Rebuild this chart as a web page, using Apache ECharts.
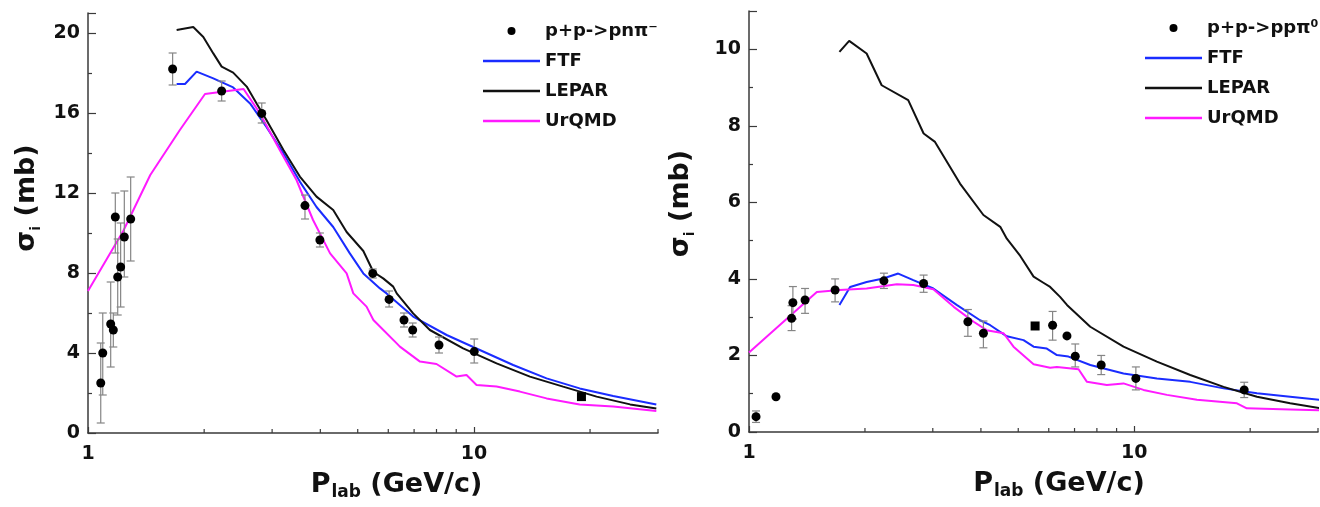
<!DOCTYPE html>
<html>
<head>
<meta charset="utf-8">
<script src="https://cdn.jsdelivr.net/npm/echarts@6/dist/echarts.min.js"></script>
<style>
  html, body { margin: 0; padding: 0; background: #ffffff; }
  #chart { width: 1320px; height: 507px; }
</style>
</head>
<body>
<div id="chart"></div>
<script>
// ---------- p+p -> p n pi-  (left panel) ----------
const pnName = 'p+p->pnπ⁻';
const pnX  = [1.079, 1.092, 1.145, 1.163, 1.177, 1.194, 1.215, 1.242, 1.290, 1.657, 2.22, 2.82, 3.65, 3.99, 5.47, 6.03, 6.59, 6.94, 8.12, 10.02];
const pnY  = [2.5, 4.0, 5.45, 5.15, 10.8, 7.8, 8.3, 9.8, 10.7, 18.2, 17.1, 15.98, 11.37, 9.65, 7.98, 6.68, 5.65, 5.15, 4.4, 4.07];
const pnLo = [0.5, 1.9, 3.3, 4.3, 9.0, 5.9, 6.3, 7.8, 8.6, 17.4, 16.6, 15.5, 10.7, 9.3, 7.75, 6.3, 5.3, 4.8, 4.0, 3.5];
const pnHi = [4.5, 6.0, 7.55, 6.0, 12.0, 9.7, 10.5, 12.1, 12.8, 19.0, 17.6, 16.5, 11.9, 10.0, 8.2, 7.1, 6.0, 5.5, 4.8, 4.7];
const pnSqX = [19.0];
const pnSqY = [1.82];

const pnFtfX = [1.697, 1.784, 1.912, 2.112, 2.378, 2.63, 2.90, 3.21, 3.54, 3.91, 4.32, 4.77, 5.17, 5.71, 5.94, 6.96, 8.5, 10.36, 12.64, 15.43, 18.8, 22.96, 29.7];
const pnFtfY = [17.45, 17.45, 18.07, 17.73, 17.28, 16.48, 15.3, 13.98, 12.57, 11.3, 10.3, 8.98, 7.98, 7.23, 6.98, 5.82, 4.9, 4.15, 3.4, 2.73, 2.23, 1.85, 1.43];

const pnLepX = [1.697, 1.874, 1.99, 2.112, 2.22, 2.378, 2.578, 2.735, 2.90, 3.21, 3.54, 3.91, 4.32, 4.68, 5.17, 5.49, 5.82, 6.18, 6.31, 6.96, 7.69, 9.38, 11.45, 13.97, 17.03, 20.8, 25.4, 29.7];
const pnLepY = [20.15, 20.3, 19.8, 18.98, 18.32, 18.02, 17.32, 16.48, 15.65, 14.15, 12.82, 11.82, 11.15, 10.05, 9.1, 8.05, 7.73, 7.32, 6.98, 5.98, 5.15, 4.23, 3.48, 2.82, 2.32, 1.82, 1.43, 1.23];

const pnUrqX = [1.0, 1.234, 1.45, 1.73, 2.01, 2.2, 2.53, 2.79, 3.14, 3.47, 3.83, 4.24, 4.68, 4.87, 5.27, 5.49, 6.31, 6.43, 7.25, 8.0, 9.02, 9.57, 10.16, 11.45, 13.16, 15.43, 18.8, 22.96, 29.7];
const pnUrqY = [7.1, 10.1, 12.9, 15.15, 16.95, 17.05, 17.2, 15.98, 14.15, 12.65, 10.65, 8.98, 7.98, 6.98, 6.32, 5.65, 4.48, 4.32, 3.57, 3.45, 2.82, 2.9, 2.4, 2.32, 2.07, 1.73, 1.43, 1.32, 1.1];

// ---------- p+p -> p p pi0  (right panel) ----------
const ppName = 'p+p->ppπ⁰';
const ppX  = [1.043, 1.175, 1.29, 1.30, 1.398, 1.673, 2.24, 2.84, 3.70, 4.06, 6.14, 6.69, 7.03, 8.21, 10.1, 19.3];
const ppY  = [0.40, 0.92, 2.97, 3.38, 3.45, 3.71, 3.95, 3.88, 2.88, 2.58, 2.79, 2.51, 1.98, 1.75, 1.40, 1.10];
const ppLo = [0.25, 0.92, 2.65, 2.95, 3.1, 3.4, 3.75, 3.65, 2.5, 2.2, 2.4, 2.51, 1.7, 1.5, 1.1, 0.9];
const ppHi = [0.55, 0.92, 3.3, 3.8, 3.75, 4.0, 4.15, 4.1, 3.2, 2.9, 3.15, 2.51, 2.3, 2.0, 1.7, 1.3];
const ppSqX = [5.53];
const ppSqY = [2.77];

const ppFtfX = [1.717, 1.83, 2.02, 2.23, 2.44, 2.67, 3.01, 3.46, 3.98, 4.23, 4.67, 5.16, 5.48, 5.93, 6.30, 6.75, 7.69, 9.38, 11.45, 13.98, 17.06, 20.83, 25.4, 30.4];
const ppFtfY = [3.32, 3.79, 3.92, 4.01, 4.14, 3.97, 3.75, 3.32, 2.92, 2.79, 2.50, 2.40, 2.23, 2.18, 2.01, 1.97, 1.75, 1.53, 1.40, 1.31, 1.14, 1.01, 0.92, 0.84];

const ppLepX = [1.717, 1.82, 2.02, 2.21, 2.59, 2.84, 3.04, 3.53, 4.06, 4.49, 4.67, 5.06, 5.48, 5.81, 6.05, 6.42, 6.69, 7.69, 9.38, 11.45, 13.98, 17.06, 20.83, 25.4, 30.4];
const ppLepY = [9.93, 10.22, 9.89, 9.06, 8.67, 7.8, 7.58, 6.49, 5.67, 5.36, 5.05, 4.6, 4.06, 3.90, 3.79, 3.53, 3.32, 2.75, 2.23, 1.84, 1.49, 1.18, 0.92, 0.75, 0.62];

const ppUrqX = [1.0, 1.50, 1.72, 2.02, 2.42, 2.67, 3.01, 3.40, 3.83, 4.14, 4.58, 4.86, 5.48, 6.05, 6.30, 7.17, 7.54, 8.49, 9.38, 10.57, 12.16, 14.55, 18.48, 19.6, 25.4, 30.4];
const ppUrqY = [2.08, 3.66, 3.71, 3.75, 3.86, 3.84, 3.73, 3.27, 2.88, 2.66, 2.58, 2.23, 1.77, 1.68, 1.70, 1.64, 1.31, 1.23, 1.27, 1.10, 0.97, 0.84, 0.75, 0.62, 0.59, 0.57];

// minor tick positions on the logarithmic momentum axis
const logMinorTicks = [2, 3, 4, 5, 6, 7, 8, 9, 20, 30];

const FTF_COLOR = '#1a2cff';
const LEPAR_COLOR = '#111111';
const URQMD_COLOR = '#ff1aff';
const FONT = 'DejaVu Sans';
const LINE_ICON = 'path://M0,0 L57,0 L57,2.4 L0,2.4 Z';

const zip = (xs, ys) => xs.map((x, i) => [x, ys[i]]);
const errRows = (xs, lo, hi) => xs.map((x, i) => [x, lo[i], hi[i]]).filter(r => r[2] > r[1]);

function renderErrorBar(params, api) {
  const x = api.value(0);
  const top = api.coord([x, api.value(2)]);
  const bot = api.coord([x, api.value(1)]);
  const cap = 4;
  const style = { stroke: '#858585', lineWidth: 1.2 };
  return {
    type: 'group',
    children: [
      { type: 'line', shape: { x1: top[0], y1: top[1], x2: bot[0], y2: bot[1] }, style },
      { type: 'line', shape: { x1: top[0] - cap, y1: top[1], x2: top[0] + cap, y2: top[1] }, style },
      { type: 'line', shape: { x1: bot[0] - cap, y1: bot[1], x2: bot[0] + cap, y2: bot[1] }, style }
    ]
  };
}

function renderMinorTick(params, api) {
  const p = api.coord([api.value(0), api.value(1)]);
  return {
    type: 'line',
    shape: { x1: p[0], y1: p[1], x2: p[0], y2: p[1] - 4 },
    style: { stroke: '#3a3a3a', lineWidth: 1.2 }
  };
}

const axisLineStyle = { color: '#3a3a3a', width: 1.5 };
const tickLabel = { fontFamily: FONT, fontWeight: 'bold', fontSize: 19, color: '#111' };

function xAxisDef(gridIndex, namePad) {
  return {
    type: 'log', logBase: 10, gridIndex, min: 1, max: 30,
    name: '{s|P}{sub|lab}{s| (GeV/c)}',
    nameLocation: 'middle', nameGap: 38, nameMoveOverlap: false,
    nameTextStyle: {
      padding: [0, 0, 0, namePad],
      rich: {
        s: { fontFamily: FONT, fontWeight: 'bold', fontSize: 27, color: '#111', lineHeight: 30, verticalAlign: 'top' },
        sub: { fontFamily: FONT, fontWeight: 'bold', fontSize: 17, color: '#111', lineHeight: 17, padding: [33, 0, 0, 1], verticalAlign: 'bottom' }
      }
    },
    axisLine: { show: true, lineStyle: axisLineStyle },
    axisTick: { show: true, inside: true, length: 6, lineStyle: { color: '#3a3a3a', width: 1.2 } },
    axisLabel: Object.assign({ margin: 12, showMaxLabel: false }, tickLabel),
    splitLine: { show: false }
  };
}

function yAxisDef(gridIndex, max, interval, namePad, nameGap) {
  return {
    type: 'value', gridIndex, min: 0, max, interval,
    name: '{s|σ}{sub|i}{s| (mb)}',
    nameLocation: 'middle', nameGap,
    nameTextStyle: {
      padding: [0, 0, 0, namePad],
      rich: {
        s: { fontFamily: FONT, fontWeight: 'bold', fontSize: 27, color: '#111', lineHeight: 32 },
        sub: { fontFamily: FONT, fontWeight: 'bold', fontSize: 14, color: '#111', lineHeight: 14, verticalAlign: 'bottom' }
      }
    },
    axisLine: { show: true, lineStyle: axisLineStyle },
    axisTick: { show: true, inside: true, length: 8, lineStyle: { color: '#3a3a3a', width: 1.2 } },
    minorTick: { show: true, splitNumber: 2, length: 4, lineStyle: { color: '#3a3a3a', width: 1.2 } },
    axisLabel: Object.assign({ margin: 8, showMaxLabel: false }, tickLabel),
    splitLine: { show: false },
    minorSplitLine: { show: false }
  };
}

function lineSeries(name, idx, xs, ys, color) {
  return {
    type: 'line', name, xAxisIndex: idx, yAxisIndex: idx,
    data: zip(xs, ys), showSymbol: false, symbol: 'none',
    lineStyle: { color, width: 2 }, itemStyle: { color },
    z: 2, animation: false
  };
}

function panelSeries(idx, dataName, px, py, lo, hi, sqx, sqy, ftfX, ftfY, lepX, lepY, urqX, urqY) {
  return [
    lineSeries('FTF', idx, ftfX, ftfY, FTF_COLOR),
    lineSeries('LEPAR', idx, lepX, lepY, LEPAR_COLOR),
    lineSeries('UrQMD', idx, urqX, urqY, URQMD_COLOR),
    {
      type: 'custom', xAxisIndex: idx, yAxisIndex: idx,
      data: errRows(px, lo, hi), renderItem: renderErrorBar,
      encode: { x: 0, y: [1, 2] }, z: 3, silent: true, animation: false
    },
    {
      type: 'scatter', name: dataName, xAxisIndex: idx, yAxisIndex: idx,
      data: zip(px, py), symbol: 'circle', symbolSize: 9,
      itemStyle: { color: '#000', opacity: 1 }, z: 4, animation: false
    },
    {
      type: 'scatter', xAxisIndex: idx, yAxisIndex: idx,
      data: zip(sqx, sqy), symbol: 'rect', symbolSize: 9,
      itemStyle: { color: '#000', opacity: 1 }, z: 4, animation: false
    },
    {
      type: 'custom', xAxisIndex: idx, yAxisIndex: idx,
      data: logMinorTicks.map(v => [v, 0]), renderItem: renderMinorTick,
      clip: false, z: 5, silent: true, animation: false
    }
  ];
}

function legendDef(left, top, dataName) {
  return {
    left, top, orient: 'vertical', padding: 0,
    itemWidth: 57, itemHeight: 8, itemGap: 12,
    selectedMode: false,
    data: [
      { name: dataName, icon: 'circle', itemStyle: { opacity: 1 } },
      { name: 'FTF', icon: LINE_ICON },
      { name: 'LEPAR', icon: LINE_ICON },
      { name: 'UrQMD', icon: LINE_ICON }
    ],
    textStyle: { fontFamily: FONT, fontWeight: 'bold', fontSize: 18, color: '#111', lineHeight: 18 }
  };
}

const chart = echarts.init(document.getElementById('chart'), null, { renderer: 'canvas' });
chart.setOption({
  backgroundColor: '#ffffff',
  animation: false,
  grid: [
    { left: 88, top: 13, width: 570, height: 420, outerBoundsMode: 'none' },
    { left: 749, top: 11, width: 569, height: 421, outerBoundsMode: 'none' }
  ],
  legend: [
    legendDef(483, 22, pnName),
    legendDef(1145, 19, ppName)
  ],
  xAxis: [xAxisDef(0, 47), xAxisDef(1, 51)],
  yAxis: [yAxisDef(0, 21, 4, 50, 45), yAxisDef(1, 11, 2, 36, 52)],
  series: [
    ...panelSeries(0, pnName, pnX, pnY, pnLo, pnHi, pnSqX, pnSqY, pnFtfX, pnFtfY, pnLepX, pnLepY, pnUrqX, pnUrqY),
    ...panelSeries(1, ppName, ppX, ppY, ppLo, ppHi, ppSqX, ppSqY, ppFtfX, ppFtfY, ppLepX, ppLepY, ppUrqX, ppUrqY)
  ]
});
</script>
</body>
</html>
